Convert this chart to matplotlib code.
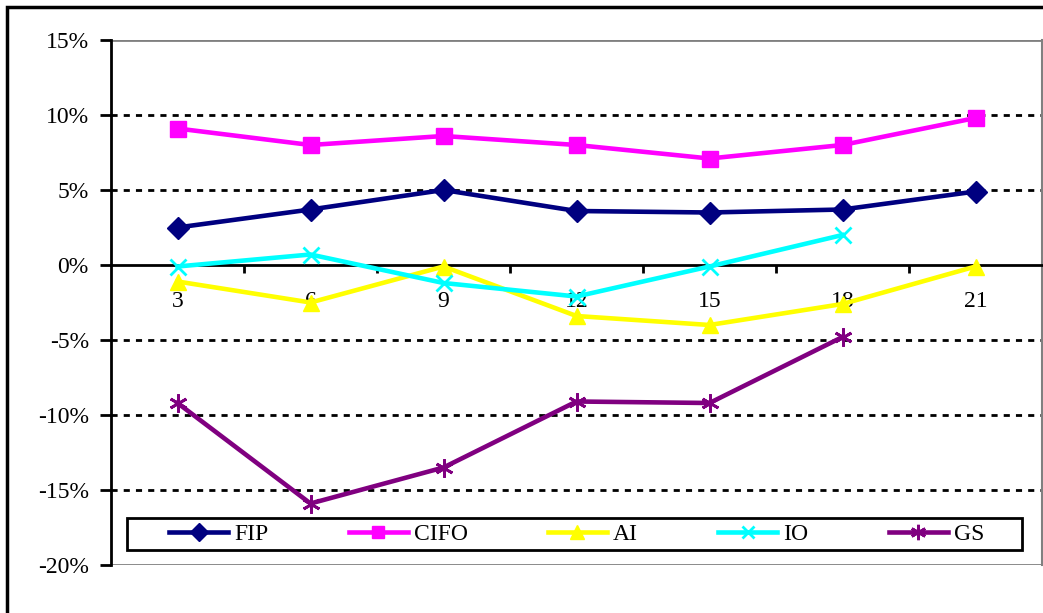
import matplotlib
matplotlib.use("Agg")
import matplotlib.pyplot as plt
from matplotlib.patches import Rectangle
import numpy as np

categories = ["3", "6", "9", "12", "15", "18", "21"]
fip = [2.5, 3.7, 5.0, 3.6, 3.5, 3.7, 4.9]
cifo = [9.1, 8.0, 8.6, 8.0, 7.1, 8.0, 9.8]
ai = [-1.1, -2.5, -0.1, -3.4, -4.0, -2.6, -0.1]
io = [-0.1, 0.7, -1.2, -2.1, -0.1, 2.0]
gs = [-9.2, -15.9, -13.5, -9.1, -9.2, -4.8]
yticks = [15, 10, 5, 0, -5, -10, -15, -20]

plt.rcParams['font.family'] = ['Liberation Serif', 'DejaVu Serif']

W, H = 1043, 613
fig = plt.figure(figsize=(W / 100, H / 100), dpi=100)
ax_l, ax_r, ax_t, ax_b = 111, 1042, 40, 565
ax = fig.add_axes([ax_l / W, 1 - ax_b / H, (ax_r - ax_l) / W, (ax_b - ax_t) / H])

def axx(px):
    return (px - ax_l) / (ax_r - ax_l)

def axy(py):
    return (ax_b - py) / (ax_b - ax_t)

x = np.arange(len(categories))
lw = 3.3
series = [
    ("FIP", fip, "#000080", "D", 11),
    ("CIFO", cifo, "#FF00FF", "s", 11),
    ("AI", ai, "#FFFF00", "^", 12),
    ("IO", io, "#00FFFF", "x", 11),
    ("GS", gs, "#800080", (6, 2, 0), 13),
]
for name, vals, col, mk, ms in series:
    xx = x[:len(vals)]
    ax.plot(xx, vals, color=col, lw=lw, marker=mk, markersize=ms,
            markerfacecolor=col, markeredgecolor=col,
            markeredgewidth=2 if (mk == "x" or isinstance(mk, tuple)) else 1,
            label=name, zorder=5)

ax.set_xlim(-0.5, len(categories) - 0.5)
ax.set_ylim(-20, 15)

for g in [10, 5, -5, -10, -15]:
    ax.axhline(g, color="black", lw=2, linestyle=(0, (2.2, 2.2)), zorder=1)

ax.axhline(15, color="#808080", lw=2, zorder=1)
ax.axhline(-20, color="#808080", lw=2, zorder=1)

ax.spines["top"].set_visible(False)
ax.spines["right"].set_color("#808080")
ax.spines["right"].set_linewidth(1.5)
ax.spines["left"].set_linewidth(2)
ax.spines["bottom"].set_position(("data", 0))
ax.spines["bottom"].set_linewidth(2)

ax.set_yticks(yticks)
ax.set_yticklabels([f"{v}%" for v in yticks], fontsize=17)
ax.tick_params(axis="y", direction="out", length=8, width=2, pad=8)

ax.set_xticks(x)
ax.set_xticklabels(categories, fontsize=17)
ax.tick_params(axis="x", which="major", length=0, pad=19)
ax.set_xticks(np.arange(0.5, len(categories) - 0.5, 1), minor=True)
ax.tick_params(axis="x", which="minor", direction="out", length=6, width=2)

# legend box
ax.add_patch(Rectangle((axx(127), axy(550)), axx(1022) - axx(127), axy(518) - axy(550),
                       transform=ax.transAxes, facecolor="white", edgecolor="black",
                       lw=2, zorder=3, clip_on=False))
leg = ax.legend(loc="center left", ncol=5, mode="expand",
                bbox_to_anchor=(axx(169), axy(550), axx(984) - axx(169), axy(518) - axy(550)),
                fontsize=17, frameon=False, handlelength=2.5, markerscale=0.85,
                borderaxespad=0, borderpad=0, handletextpad=0.25)
leg.set_zorder(4)

fig.patches.append(Rectangle((7 / W, -0.1), 1.2, 1 - 7 / H + 0.1,
                             transform=fig.transFigure, fill=False,
                             edgecolor="black", lw=2.5))

fig.savefig("out.png", dpi=100)
